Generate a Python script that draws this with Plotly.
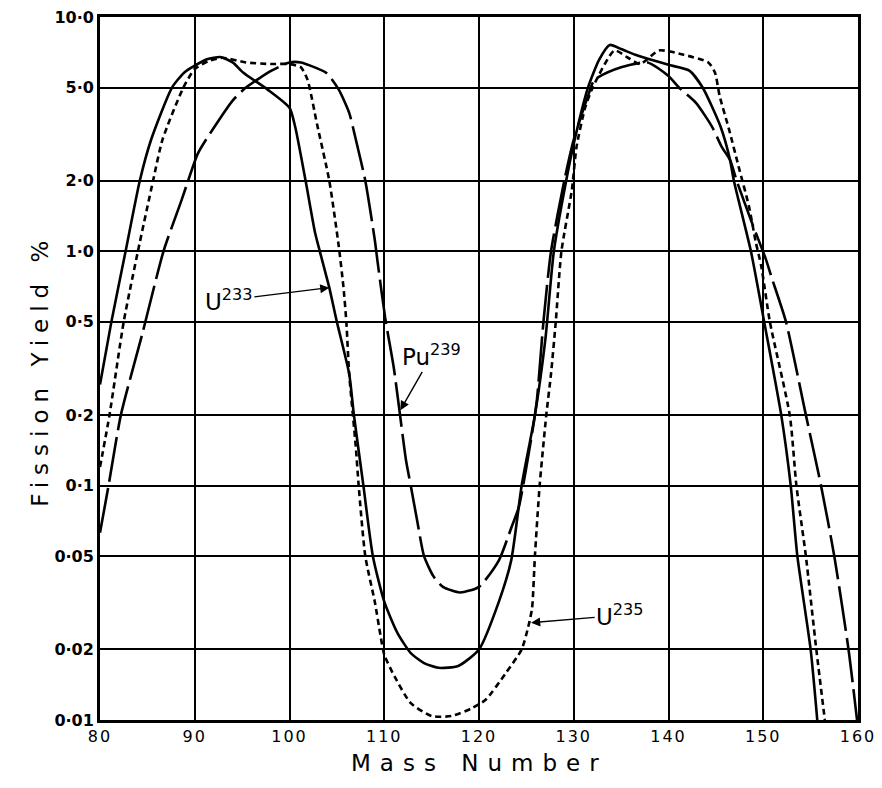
import plotly.graph_objects as go
import math

# ---- data (mass number, fission yield %) ----
u233_mass = [80.0, 81.2, 82.7, 84.2, 85.4, 87.6, 88.9, 90.0, 91.3, 92.7, 94.0, 95.1, 97.7, 100.0,
             100.6, 101.7, 102.7, 103.2, 104.2, 105.0, 106.3, 106.8, 107.8, 108.8, 110.0, 111.4,
             112.8, 114.2, 115.7, 117.8, 120.0, 122.1, 123.4, 124.5, 125.9, 127.0, 127.9, 129.2,
             130.1, 131.5, 132.7, 133.8, 135.0, 136.5, 138.0, 140.0, 142.2, 143.6, 145.5, 146.5,
             146.9, 148.7, 150.1, 151.9, 152.9, 153.6, 155.0, 155.7]
u233_yield = [0.27, 0.5, 1.0, 2.0, 3.0, 5.0, 5.8, 6.2, 6.6, 6.75, 6.4, 5.8, 4.9, 4.1,
              3.4, 2.0, 1.2, 1.0, 0.70, 0.5, 0.30, 0.2, 0.1, 0.05, 0.032, 0.0235,
              0.0193, 0.0175, 0.0167, 0.017, 0.020, 0.032, 0.048, 0.1, 0.2, 0.42, 1.0, 2.0,
              3.0, 5.0, 6.6, 7.6, 7.3, 6.9, 6.6, 6.25, 5.9, 5.0, 3.4, 2.45,
              2.0, 1.0, 0.5, 0.2, 0.1, 0.05, 0.02, 0.01]

u235_mass = [80.0, 81.0, 82.5, 84.0, 85.6, 86.6, 88.8, 90.0, 91.5, 92.9, 95.4, 98.0, 100.0,
             101.2, 101.9, 102.9, 104.2, 105.2, 105.7, 106.0, 106.3, 107.0, 107.3, 108.0, 109.0,
             109.6, 110.0, 111.1, 112.8, 115.0, 117.1, 119.2, 120.7, 122.8, 124.5, 125.2, 125.6,
             125.9, 126.4, 127.1, 127.6, 128.1, 128.7, 129.8, 130.3, 131.2, 132.0, 134.3, 135.6,
             137.0, 139.0, 141.6, 144.2, 144.9, 145.4, 146.4, 147.4, 148.5, 149.2, 149.8, 150.7,
             152.8, 153.5, 154.5, 155.6, 156.5]
u235_yield = [0.12, 0.2, 0.5, 1.0, 2.0, 3.0, 5.0, 6.0, 6.5, 6.7, 6.4, 6.3, 6.3,
              6.1, 5.4, 3.5, 2.0, 1.05, 0.70, 0.5, 0.30, 0.146, 0.1, 0.05, 0.032,
              0.023, 0.019, 0.0153, 0.0118, 0.0104, 0.0104, 0.0112, 0.0122, 0.0158, 0.020, 0.025, 0.03,
              0.05, 0.1, 0.2, 0.3, 0.5, 1.0, 1.83, 2.8, 4.1, 5.0, 7.2, 6.75,
              6.3, 7.2, 6.9, 6.4, 5.8, 4.6, 3.3, 2.3, 1.55, 1.1, 0.86, 0.5,
              0.2, 0.1, 0.05, 0.02, 0.01]

pu239_mass = [80.0, 80.9, 82.2, 84.5, 86.7, 88.6, 90.3, 91.2, 94.0, 95.4, 98.1, 100.0, 101.2,
              102.2, 103.9, 105.2, 106.3, 107.0, 108.0, 109.0, 109.3, 110.1, 111.0, 111.6, 112.3,
              112.8, 113.5, 114.2, 115.2, 116.2, 118.0, 120.0, 122.1, 123.4, 124.2, 125.6, 126.1,
              126.8, 127.6, 129.0, 130.0, 131.5, 132.2, 135.0, 137.8, 140.0, 141.1, 142.9, 144.6,
              145.6, 146.5, 147.2, 148.7, 150.3, 150.9, 152.4, 154.5, 156.1, 157.5, 159.0, 159.9]
pu239_yield = [0.063, 0.1, 0.2, 0.45, 1.0, 1.65, 2.6, 3.0, 4.4, 5.0, 5.9, 6.4, 6.4,
               6.2, 5.77, 4.9, 3.9, 3.0, 2.0, 1.12, 0.9, 0.52, 0.32, 0.21, 0.128,
               0.1, 0.07, 0.05, 0.041, 0.037, 0.035, 0.037, 0.048, 0.066, 0.081, 0.167, 0.23,
               0.5, 1.0, 2.0, 3.0, 4.6, 5.4, 6.1, 6.4, 5.6, 5.0, 4.3, 3.4,
               2.8, 2.45, 2.0, 1.36, 0.92, 0.77, 0.5, 0.2, 0.1, 0.05, 0.02, 0.01]

x_ticks = [80, 90, 100, 110, 120, 130, 140, 150, 160]
y_ticks = [0.01, 0.02, 0.05, 0.1, 0.2, 0.5, 1, 2, 5, 10]
y_ticktext = ["0·01", "0·02", "0·05", "0·1", "0·2", "0·5", "1·0", "2·0", "5·0", "10·0"]

FONT = "DejaVu Sans"

fig = go.Figure()
fig.add_trace(go.Scatter(x=u233_mass, y=u233_yield, mode="lines", name="U233",
                         line=dict(color="black", width=2.6, shape="spline", smoothing=0.6)))
fig.add_trace(go.Scatter(x=u235_mass, y=u235_yield, mode="lines", name="U235",
                         line=dict(color="black", width=2.6, dash="6px,4px", shape="spline", smoothing=0.6)))
fig.add_trace(go.Scatter(x=pu239_mass, y=pu239_yield, mode="lines", name="Pu239",
                         line=dict(color="black", width=2.6, dash="45px,7px", shape="spline", smoothing=0.6)))

def lg(v):
    return math.log10(v)

labels = [
    # text, label centre x, label centre y, arrow tip x, tip y
    ("U<sup>233</sup>", 93.6, 0.62, 104.2, 0.70),
    ("Pu<sup>239</sup>", 115.0, 0.36, 111.7, 0.21),
    ("U<sup>235</sup>", 134.9, 0.028, 125.5, 0.026),
]
for txt, tx, ty, hx, hy in labels:
    fig.add_annotation(x=hx, y=lg(hy), ax=tx, ay=lg(ty), xref="x", yref="y",
                       axref="x", ayref="y", text=txt, showarrow=True,
                       arrowhead=2, arrowsize=1.3, arrowwidth=1.4, arrowcolor="black",
                       font=dict(family=FONT, size=23, color="black"))

fig.add_annotation(x=0.5, y=-0.083, xref="paper", yref="paper",
                   text='<span style="letter-spacing:9px">Mass Number</span>',
                   showarrow=False, font=dict(family=FONT, size=23, color="black"))
fig.add_annotation(x=-0.099, y=0.498, xref="paper", yref="paper",
                   text='<span style="letter-spacing:7px">Fission Yield %</span>',
                   showarrow=False, textangle=-90, font=dict(family=FONT, size=23, color="black"))

fig.update_xaxes(range=[80, 160], tickvals=x_ticks,
                 ticktext=['<span style="letter-spacing:2px">%d</span>' % v for v in x_ticks],
                 showgrid=True, gridcolor="black", gridwidth=1.6, zeroline=False,
                 showline=True, linecolor="black", linewidth=2.8, mirror=True, automargin=False,
                 ticklabeloverflow="allow",
                 ticks="", tickfont=dict(family=FONT, size=16, color="black"))
fig.update_yaxes(type="log", range=[-2, 1], tickvals=y_ticks, ticktext=y_ticktext,
                 showgrid=True, gridcolor="black", gridwidth=1.6, zeroline=False,
                 showline=True, linecolor="black", linewidth=2.8, mirror=True, automargin=False,
                 ticklabeloverflow="allow",
                 ticks="", tickfont=dict(family=FONT, size=16, color="black", weight="bold"))

# the page adds an 8px body margin, so margins are shifted to land the plot area where the reference has it
fig.update_layout(width=882, height=788, showlegend=False,
                  paper_bgcolor="white", plot_bgcolor="white",
                  margin=dict(l=92, r=32, t=9, b=76))

fig.write_html("out.html")
